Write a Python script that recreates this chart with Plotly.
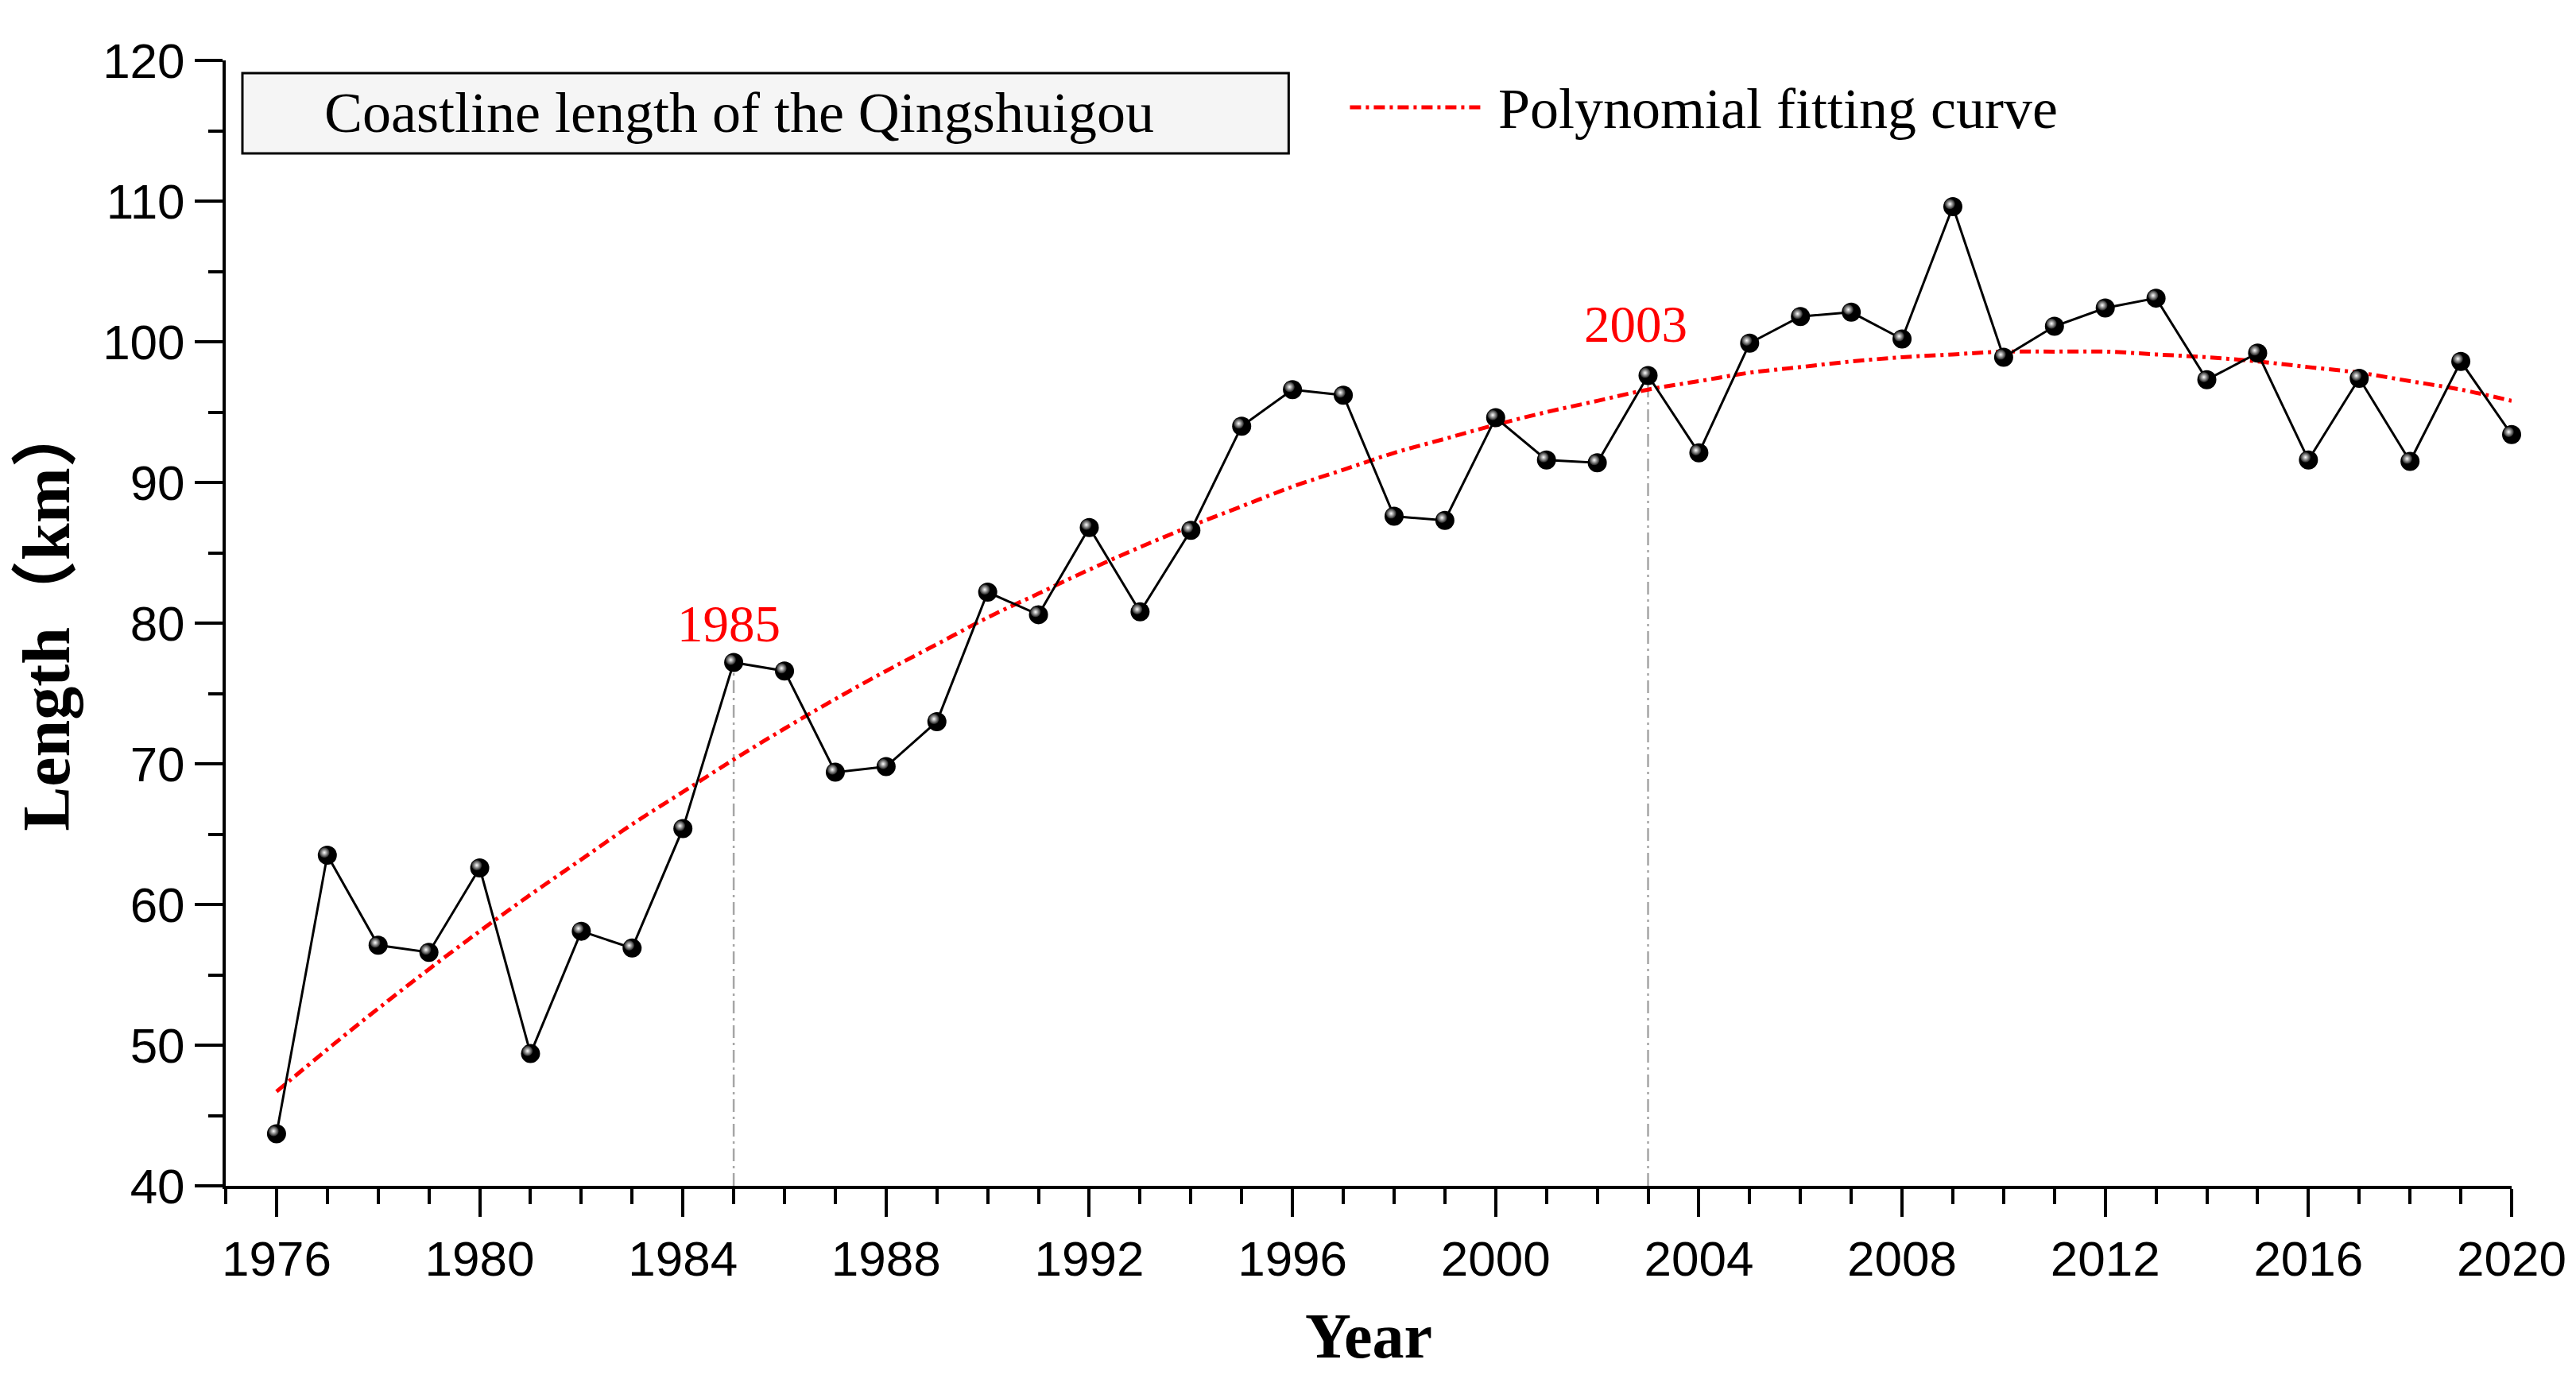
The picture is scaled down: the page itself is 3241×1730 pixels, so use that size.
import plotly.graph_objects as go

years = list(range(1976, 2021))
length_km = [43.7, 63.5, 57.1, 56.6, 62.6, 49.4, 58.1, 56.9, 65.4, 77.2,
             76.6, 69.4, 69.8, 73.0, 82.2, 80.6, 86.8, 80.8, 86.6, 94.0,
             96.6, 96.2, 87.6, 87.3, 94.6, 91.6, 91.4, 97.6, 92.1, 99.9,
             101.8, 102.1, 100.2, 109.6, 98.9, 101.1, 102.4, 103.1, 97.3, 99.2,
             91.6, 97.4, 91.5, 98.6, 93.4]
fit_curve = [46.7, 49.7, 52.6, 55.4, 58.1, 60.7, 63.2, 65.7, 68.0, 70.3,
             72.5, 74.6, 76.6, 78.5, 80.4, 82.1, 83.8, 85.4, 86.9, 88.3,
             89.7, 90.9, 92.1, 93.1, 94.1, 95.0, 95.8, 96.6, 97.2, 97.8,
             98.2, 98.6, 98.9, 99.1, 99.3, 99.3, 99.3, 99.1, 98.9, 98.6,
             98.2, 97.8, 97.2, 96.6, 95.8]
marked_years = [1985, 2003]
title_text = "Coastline length of the Qingshuigou"
legend_text = "Polynomial fitting curve"
x_title = "Year"
y_title = "Length（km）"

SERIF = "Liberation Serif, Times New Roman, serif"
SANS = "Liberation Sans, Arial, sans-serif"

X_RANGE = [1975, 2020]
Y_RANGE = [40, 120]
# small offset (in axis units) for the sphere highlight (up-left of centre)
HL_DX = 0.058
HL_DY = 0.19

fig = go.Figure()

# vertical guide lines at marked years
for yr in marked_years:
    v = length_km[years.index(yr)]
    fig.add_trace(go.Scatter(
        x=[yr, yr], y=[Y_RANGE[0], v], mode="lines",
        line=dict(color="#a6a6a6", width=2.5, dash="16px,6px,3px,6px"),
        showlegend=False, hoverinfo="skip"))

# polynomial fitting curve
fig.add_trace(go.Scatter(
    x=years, y=fit_curve, mode="lines", name=legend_text,
    line=dict(color="#ff0000", width=5, dash="14px,6px,4px,6px", shape="spline"),
    showlegend=False, cliponaxis=False))

# data line with sphere-like markers
fig.add_trace(go.Scatter(
    x=years, y=length_km, mode="lines+markers", name="Length",
    line=dict(color="black", width=3),
    marker=dict(size=24, color="black", line=dict(width=0)),
    showlegend=False, cliponaxis=False))
# highlights on an overlaid, slightly shifted invisible axis pair
fig.add_trace(go.Scatter(
    x=years, y=length_km, mode="markers", xaxis="x2", yaxis="y2",
    marker=dict(size=13, color="#202020", line=dict(width=0),
                gradient=dict(type="radial", color="#ffffff")),
    showlegend=False, cliponaxis=False, hoverinfo="skip"))

# year annotations
shifts = {1985: (-6, 49), 2003: (-16, 64)}
for yr in marked_years:
    v = length_km[years.index(yr)]
    xs, ys = shifts[yr]
    fig.add_annotation(x=yr, y=v, text=str(yr), showarrow=False,
                       xanchor="center", yanchor="middle", xshift=xs, yshift=ys,
                       font=dict(family=SERIF, size=65, color="#ff0000"))

# title box
fig.add_shape(type="rect", xref="paper", yref="paper",
              x0=0.0073, x1=0.465, y0=0.9174, y1=0.9887,
              fillcolor="#f5f5f5", line=dict(color="black", width=3))
fig.add_annotation(xref="paper", yref="paper", x=0.2247, y=0.9534,
                   text=title_text, showarrow=False, xanchor="center", yanchor="middle",
                   font=dict(family=SERIF, size=72, color="black"))

# manual legend
fig.add_shape(type="line", xref="paper", yref="paper",
              x0=0.4918, x1=0.5498, y0=0.9583, y1=0.9583,
              line=dict(color="#ff0000", width=5, dash="14px,6px,4px,6px"))
fig.add_annotation(xref="paper", yref="paper", x=0.5561, y=0.9569,
                   text=legend_text, showarrow=False, xanchor="left", yanchor="middle",
                   font=dict(family=SERIF, size=72, color="black"))

# y-axis title
fig.add_annotation(xref="paper", yref="paper", x=-0.0785, y=0.506,
                   text="<b>%s</b>" % y_title, showarrow=False, textangle=-90,
                   xanchor="center", yanchor="middle",
                   font=dict(family=SERIF + ", Noto Sans CJK SC", size=84, color="black"))

fig.update_layout(
    width=3241, height=1730,
    margin=dict(l=284, r=78, t=76, b=238),
    paper_bgcolor="white", plot_bgcolor="white",
    showlegend=False,
    xaxis=dict(
        range=X_RANGE, tick0=1976, dtick=4,
        showgrid=False, zeroline=False,
        showline=True, linecolor="black", linewidth=4,
        ticks="outside", ticklen=35, tickwidth=4, tickcolor="black",
        minor=dict(ticks="outside", ticklen=19, tickwidth=4, tickcolor="black",
                   tick0=1975, dtick=1, showgrid=False),
        tickfont=dict(family=SANS, size=62, color="black"),
        title=dict(text="<b>%s</b>" % x_title, standoff=36,
                   font=dict(family=SERIF, size=80, color="black")),
    ),
    yaxis=dict(
        range=Y_RANGE, tick0=40, dtick=10,
        showgrid=False, zeroline=False,
        showline=True, linecolor="black", linewidth=4,
        ticks="outside", ticklen=35, tickwidth=4, tickcolor="black",
        minor=dict(ticks="outside", ticklen=18, tickwidth=4, tickcolor="black",
                   tick0=40, dtick=5, showgrid=False),
        tickfont=dict(family=SANS, size=62, color="black"),
    ),
    xaxis2=dict(overlaying="x", range=[X_RANGE[0] + HL_DX, X_RANGE[1] + HL_DX],
                visible=False, showgrid=False, zeroline=False),
    yaxis2=dict(overlaying="y", range=[Y_RANGE[0] - HL_DY, Y_RANGE[1] - HL_DY],
                visible=False, showgrid=False, zeroline=False),
)

fig.write_html("out.html", config={"displayModeBar": False},
               post_script="document.body.style.margin='0px';")
